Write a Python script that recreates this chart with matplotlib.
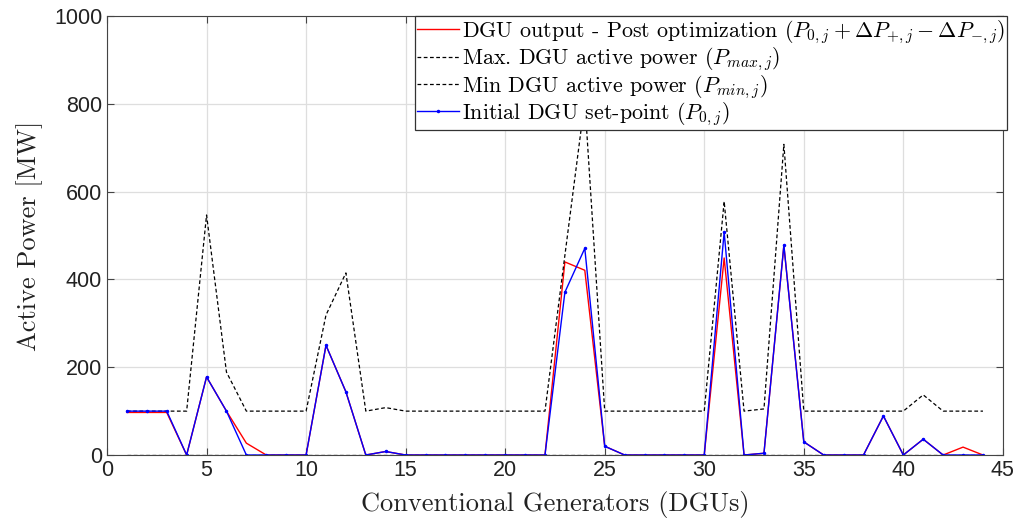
import numpy as np
import matplotlib
matplotlib.use("Agg")
import matplotlib.pyplot as plt

plt.rcParams['mathtext.fontset'] = 'cm'
plt.rcParams['axes.unicode_minus'] = False

# generator index
gens = list(range(1, 45))

# max DGU active power (MW)
p_max = [100, 100, 100, 100, 547, 189, 100, 100, 100, 100,
         319, 415, 100, 108, 100, 100, 100, 100, 100, 100,
         100, 100, 455, 807, 100, 100, 100, 100, 100, 100,
         578, 100, 105, 708, 100, 100, 100, 100, 100, 100,
         137, 100, 100, 100]

# min DGU active power (MW)
p_min = [0] * 44

# initial set-point (MW)
p_init = [100, 100, 100, 0, 178, 100, 0, 0, 0, 0,
          250, 144, 0, 8, 0, 0, 0, 0, 0, 0,
          0, 0, 371, 471, 20, 0, 0, 0, 0, 0,
          508, 0, 4, 478, 30, 0, 0, 0, 89, 0,
          36, 0, 0, 0]

# output after optimization (MW)
p_post = [97, 97, 97, 0, 178, 100, 27, 0, 0, 0,
          250, 144, 0, 8, 0, 0, 0, 0, 0, 0,
          0, 0, 440, 421, 20, 0, 0, 0, 0, 0,
          449, 0, 4, 478, 30, 0, 0, 0, 89, 0,
          36, 0, 18, 0]

fig = plt.figure(figsize=(10.25, 5.23), dpi=100)
ax = fig.add_axes([0.1044, 0.130, 0.874, 0.839])

ax.plot(gens, p_post, color='red', lw=1.0,
        label=r'DGU output - Post optimization $(P_{0,j}+\Delta P_{+,j}-\Delta P_{-,j})$')
ax.plot(gens, p_max, color='black', lw=0.9, ls=(0, (3, 2)),
        label=r'Max. DGU active power $(P_{max,j})$')
ax.plot(gens, p_min, color='black', lw=0.9, ls=(0, (3, 2)),
        label=r'Min DGU active power $(P_{min,j})$')
ax.plot(gens, p_init, color='blue', lw=1.0, marker='.', markersize=3,
        label=r'Initial DGU set-point $(P_{0,j})$')

ax.set_xlim(0, 45)
ax.set_ylim(0, 1000)
ax.set_xticks(range(0, 46, 5))
ax.set_yticks(range(0, 1001, 200))
ax.grid(True, color='#dedede', lw=0.9)
ax.set_axisbelow(True)
ax.tick_params(direction='in', top=True, right=True, length=5, color='#444444',
               labelsize=15.5)
for lab in ax.get_xticklabels() + ax.get_yticklabels():
    lab.set_family('Liberation Sans')
    lab.set_color('#222222')
for s in ax.spines.values():
    s.set_color('#444444')

ax.set_xlabel('Conventional Generators (DGUs)', fontfamily='cmr10', fontsize=19,
              color='#222222', labelpad=7)
ax.set_ylabel('Active Power [MW]', fontfamily='cmr10', fontsize=19,
              color='#222222', labelpad=8)

leg = ax.legend(loc='upper right', borderaxespad=0, fancybox=False,
                prop={'family': 'cmr10', 'size': 15.8}, handlelength=1.9,
                handletextpad=0.15, borderpad=0.1, labelspacing=0.0,
                framealpha=1, bbox_to_anchor=(1.005, 1.0))
leg.get_frame().set_edgecolor('#333333')
leg.get_frame().set_linewidth(0.9)

fig.savefig('out.png', dpi=100)
